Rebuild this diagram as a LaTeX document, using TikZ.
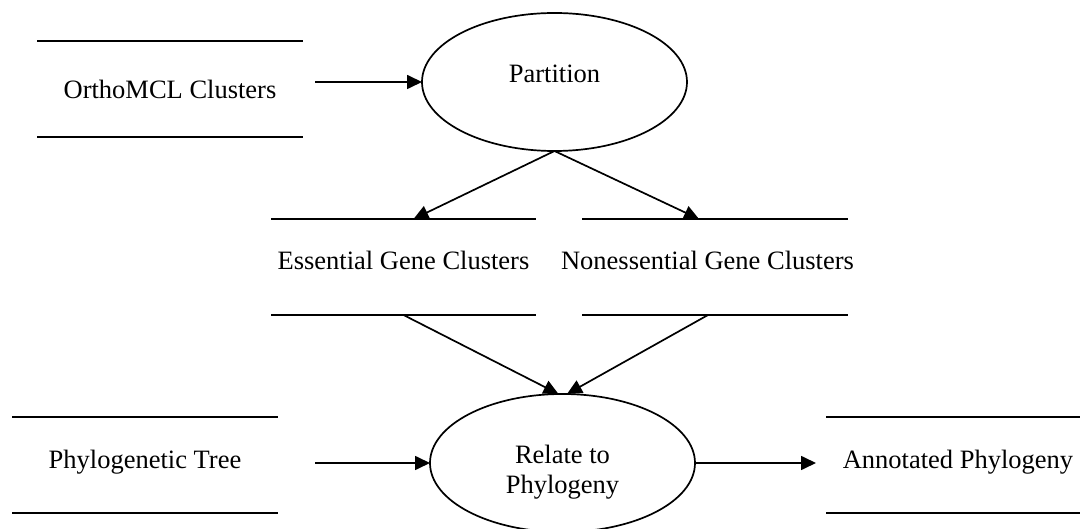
\documentclass[tikz,border=0pt]{standalone}
\usepackage{fontspec}
\setmainfont{Liberation Serif}
\usetikzlibrary{arrows.meta,calc,shapes.geometric}
\begin{document}
\begin{tikzpicture}[x=1pt,y=-1pt,
  every node/.style={inner sep=0pt, outer sep=0pt},
  lbl/.style={font=\fontsize{26.5}{30}\selectfont, anchor=base, align=center},
  proc/.style={ellipse, draw, line width=1.7pt, minimum width=265pt, minimum height=138pt},
  store/.style={rectangle, minimum height=96pt},
  storeline/.style={line width=2pt},
  flow/.style={line width=1.7pt, -{Triangle[length=15pt,width=14pt]}}]

\useasboundingbox (0,0) rectangle (1080,529);
\clip (0,0) rectangle (1080,529);

% data stores (open-ended: only top and bottom rules)
\node[store, minimum width=266pt] (orth) at (170,89) {};
\node[store, minimum width=265pt] (ess)  at (403.5,267) {};
\node[store, minimum width=266pt] (nes)  at (715,267) {};
\node[store, minimum width=266pt] (phy)  at (145,465) {};
\node[store, minimum width=264pt] (ann)  at (958,465) {};
\foreach \s in {orth,ess,nes,phy,ann}
  \draw[storeline] (\s.north west) -- (\s.north east)
                   (\s.south west) -- (\s.south east);

\node[lbl] at ($(orth.center)+(0,10)$) {OrthoMCL Clusters};
\node[lbl] at ($(ess.center)+(0,3)$) {Essential Gene Clusters};
\node[lbl] at ($(nes.center)+(-7.5,3)$) {Nonessential Gene Clusters};
\node[lbl] at ($(phy.center)+(0,3)$) {Phylogenetic Tree};
\node[lbl] at ($(ann.center)+(0,3)$) {Annotated Phylogeny};

% processes
\node[proc] (part) at (554.5,82) {};
\node[lbl] at ($(part.center)+(0,1)$) {Partition};
\node[proc] (rel) at (562.5,463) {};
\node[lbl, anchor=center] at ($(rel.center)+(0,9)$) {Relate to\\Phylogeny};

% flows
\coordinate (orthout) at ([xshift=12pt]orth.east |- part.west);
\coordinate (phyout)  at ([xshift=37pt]phy.east |- rel.west);
\coordinate (annin)   at ([xshift=-10pt]ann.west |- rel.east);

\draw[flow] (orthout) -- (part.west);
\draw[flow] (part.south) -- ([xshift=10pt]ess.north);
\draw[flow] (part.south) -- ([xshift=-16pt]nes.north);
\draw[flow] (ess.south) -- ([xshift=-4pt]rel.north);
\draw[flow] ([xshift=-7pt]nes.south) -- ([xshift=4.5pt]rel.north);
\draw[flow] (phyout) -- (rel.west);
\draw[flow] (rel.east) -- (annin);
\end{tikzpicture}
\end{document}
